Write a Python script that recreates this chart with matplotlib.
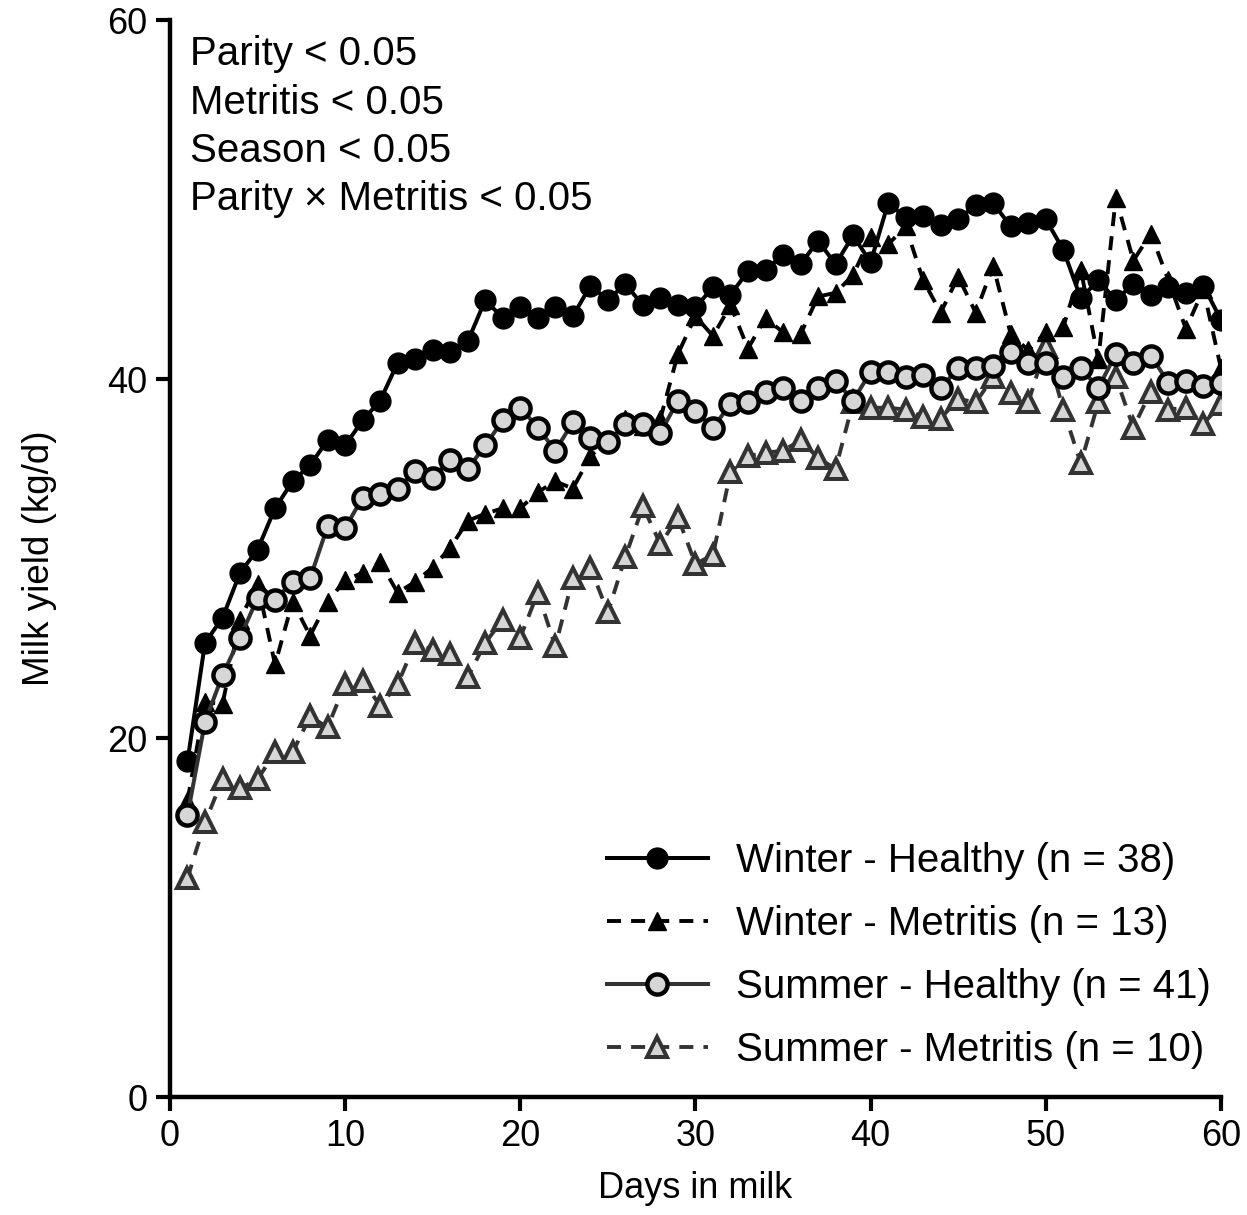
"""Milk yield by days in milk: season x metritis groups."""

import matplotlib
matplotlib.use('Agg')
import matplotlib.pyplot as plt

plt.rcParams.update({
    'font.family': ['Liberation Sans', 'DejaVu Sans'],
    'font.size': 26,
})

DAYS = list(range(1, 61))

WINTER_HEALTHY = [
    18.7, 25.3, 26.7, 29.2, 30.5, 32.8, 34.3, 35.2, 36.6, 36.3,
    37.7, 38.8, 40.9, 41.1, 41.6, 41.5, 42.1, 44.4, 43.4, 44.0,
    43.4, 44.0, 43.5, 45.2, 44.4, 45.3, 44.1, 44.5, 44.1, 44.0,
    45.1, 44.7, 46.0, 46.1, 46.9, 46.4, 47.7, 46.4, 48.0, 46.5,
    49.8, 49.0, 49.1, 48.6, 48.9, 49.7, 49.8, 48.5, 48.7, 48.9,
    47.2, 44.5, 45.5, 44.4, 45.3, 44.7, 45.1, 44.8, 45.2, 43.3,
]
WINTER_METRITIS = [
    16.5, 22.0, 21.9, 26.6, 28.6, 24.1, 27.6, 25.7, 27.6, 28.8,
    29.2, 29.8, 28.1, 28.7, 29.5, 30.6, 32.1, 32.5, 32.8, 32.8,
    33.7, 34.3, 33.9, 35.7, 36.6, 37.8, 37.4, 37.8, 41.4, 43.5,
    42.4, 44.1, 41.7, 43.4, 42.6, 42.5, 44.6, 44.8, 45.8, 47.9,
    47.5, 48.5, 45.5, 43.7, 45.7, 43.7, 46.3, 42.5, 41.6, 42.6,
    42.9, 46.1, 41.1, 50.1, 46.6, 48.1, 45.5, 42.8, 45.0, 40.6,
]
SUMMER_HEALTHY = [
    15.7, 20.9, 23.5, 25.6, 27.8, 27.7, 28.7, 28.9, 31.8, 31.7,
    33.4, 33.6, 33.9, 34.9, 34.5, 35.5, 35.0, 36.3, 37.7, 38.4,
    37.3, 36.0, 37.6, 36.7, 36.5, 37.5, 37.5, 37.0, 38.8, 38.2,
    37.3, 38.6, 38.7, 39.3, 39.5, 38.8, 39.5, 39.9, 38.8, 40.4,
    40.4, 40.1, 40.2, 39.5, 40.6, 40.6, 40.7, 41.5, 40.9, 40.9,
    40.1, 40.6, 39.5, 41.4, 40.9, 41.3, 39.8, 39.9, 39.6, 39.8,
]
SUMMER_METRITIS = [
    12.2, 15.3, 17.7, 17.2, 17.7, 19.2, 19.2, 21.2, 20.6, 23.0,
    23.2, 21.8, 23.0, 25.3, 24.9, 24.7, 23.4, 25.3, 26.6, 25.6,
    28.1, 25.1, 28.9, 29.5, 27.0, 30.1, 32.9, 30.8, 32.3, 29.7,
    30.2, 34.8, 35.7, 35.9, 36.0, 36.6, 35.6, 35.0, 38.7, 38.4,
    38.4, 38.3, 37.9, 37.8, 38.9, 38.7, 40.1, 39.2, 38.7, 41.8,
    38.3, 35.3, 38.7, 40.1, 37.3, 39.3, 38.3, 38.4, 37.5, 38.6,
]

LABELS = [
    'Winter - Healthy (n = 38)',
    'Winter - Metritis (n = 13)',
    'Summer - Healthy (n = 41)',
    'Summer - Metritis (n = 10)',
]
STATS_TEXT = [
    'Parity < 0.05',
    'Metritis < 0.05',
    'Season < 0.05',
    'Parity \u00d7 Metritis < 0.05',
]

GRAY_LINE = '#333333'
GRAY_FILL = '#d6d6d6'


def main():
    fig = plt.figure(figsize=(12.47, 12.15), dpi=100)
    ax = fig.add_axes([0.1363, 0.0971, 0.8428, 0.8864])

    ax.plot(DAYS, WINTER_HEALTHY, color='black', lw=2.9, marker='o',
            markersize=15, markerfacecolor='black', markeredgecolor='black',
            label=LABELS[0], zorder=3)
    ax.plot(DAYS, WINTER_METRITIS, color='black', lw=2.8, dashes=(3.6, 2.6),
            marker='^', markersize=13.5, markerfacecolor='black',
            markeredgecolor='black', label=LABELS[1], zorder=2)
    ax.plot(DAYS, SUMMER_HEALTHY, color=GRAY_LINE, lw=2.9, marker='o',
            markersize=14.5, markerfacecolor=GRAY_FILL, markeredgecolor='black',
            markeredgewidth=3.2, label=LABELS[2], zorder=4)
    ax.plot(DAYS, SUMMER_METRITIS, color=GRAY_LINE, lw=2.8, dashes=(3.6, 2.6),
            marker='^', markersize=14.5, markerfacecolor=GRAY_FILL,
            markeredgecolor=GRAY_LINE, markeredgewidth=2.9,
            label=LABELS[3], zorder=1)

    ax.set_xlim(0, 60)
    ax.set_ylim(0, 60)
    ax.set_xticks(range(0, 61, 10))
    ax.set_yticks([0, 20, 40, 60])
    ax.set_xlabel('Days in milk', fontsize=26, labelpad=12)
    ax.set_ylabel('Milk yield (kg/d)', fontsize=26.5, labelpad=36)
    ax.tick_params(labelsize=26, length=10, width=3, direction='out', pad=6)

    for side in ('top', 'right'):
        ax.spines[side].set_visible(False)
    for side in ('left', 'bottom'):
        ax.spines[side].set_linewidth(3.2)

    # stats block, one line each (baselines)
    for i, s in enumerate(STATS_TEXT):
        ax.text(0.019, 0.958 - i * 0.0449, s, transform=ax.transAxes,
                fontsize=29, va='baseline', ha='left')

    ax.legend(loc='upper left', bbox_to_anchor=(0.4158, 0.237),
              frameon=False, fontsize=29, handlelength=2.5,
              handletextpad=0.7, labelspacing=0.62, borderpad=0,
              borderaxespad=0)

    fig.savefig('out.png', dpi=100)
    plt.close(fig)


if __name__ == '__main__':
    main()
